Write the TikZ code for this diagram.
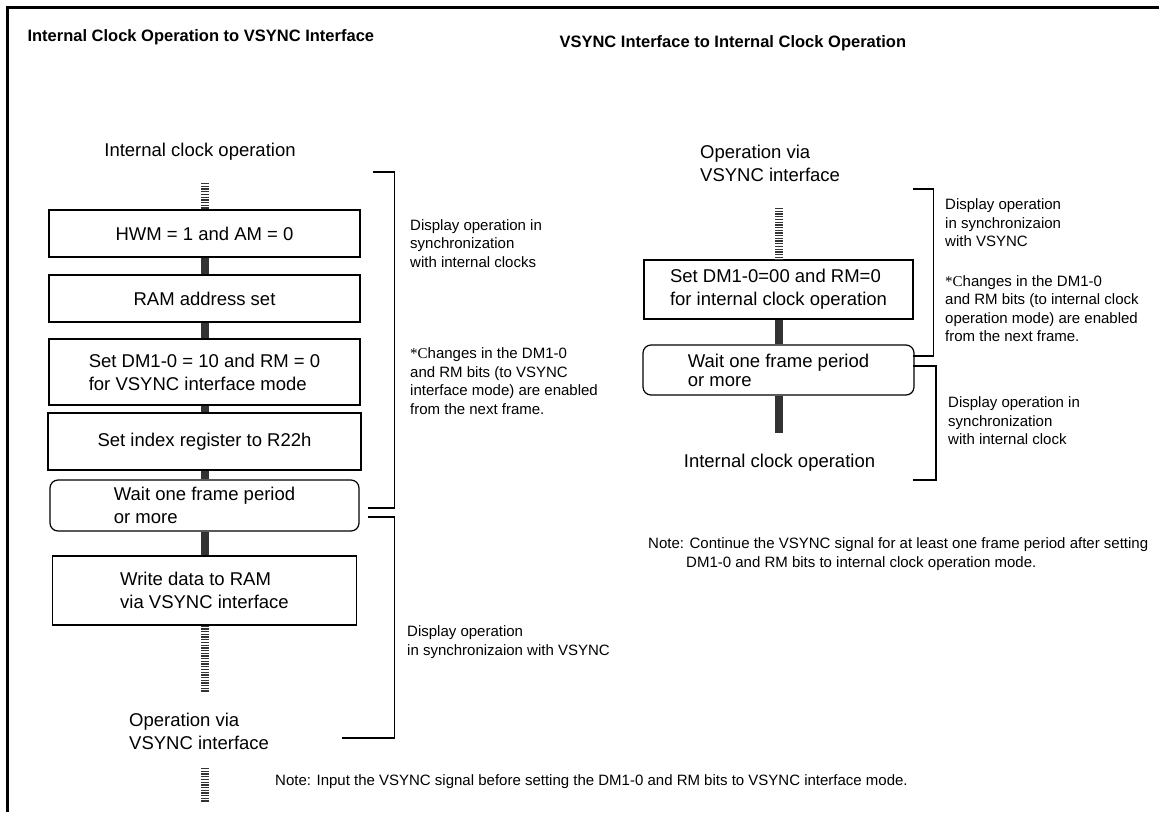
\documentclass[tikz,border=0pt]{standalone}
\usepackage{fontspec}
\setmainfont{Liberation Sans}
\newfontfamily\serifstar{Liberation Serif}
\usepackage{xcolor}
\usepackage{tikz}

\definecolor{barcol}{HTML}{333333}
\newcommand{\flowsize}{\fontsize{18.5}{23}\selectfont}
\newcommand{\notesize}{\fontsize{15}{18.5}\selectfont}
\newcommand{\headsize}{\fontsize{16.5}{20}\selectfont\bfseries}
\newcommand{\starC}{{\serifstar *C}}

\tikzset{
    procbox/.style={draw, line width=1.2pt, align=left, font=\flowsize, inner sep=0pt},
    waitbox/.style={procbox, rounded corners=8pt},
    link/.style={draw=barcol, line width=8pt},
    hatch/.style={draw=barcol, line width=8pt, dash pattern=on 1.3pt off 1.4pt},
    bracket/.style={draw, line width=1.2pt},
    flowtext/.style={align=left, font=\flowsize, inner sep=0pt},
    sidenote/.style={anchor=west, align=left, font=\notesize, inner sep=0pt}
}

\begin{document}
\begin{tikzpicture}[x=1pt,y=-1pt]
        \useasboundingbox (0,0) rectangle (1159,812);
        \draw[line width=2.5pt] (1159,7.5) -- (7.5,7.5) -- (7.5,812);

        % internal clock operation to VSYNC interface
        \node (titleL) [anchor=west, font=\headsize] at (24,37) {Internal Clock Operation to VSYNC Interface};
        \node (startL) [flowtext] at (200,152) {Internal clock operation};
        \node (hwm) [procbox, minimum width=311pt, minimum height=47pt] at (204.5,233.5) {HWM = 1 and AM = 0};
        \node (ramset) [procbox, minimum width=311pt, minimum height=47pt] at (204.5,298.5) {RAM address set};
        \node (dmset) [procbox, minimum width=311pt, minimum height=66pt] at (204.5,372) {Set DM1-0 = 10 and RM = 0\\for VSYNC interface mode};
        \node (idxset) [procbox, minimum width=313pt, minimum height=57pt] at (204.5,441.5) {Set index register to R22h};
        \node (waitL) [waitbox, minimum width=309pt, minimum height=51pt] at (204.5,505.5) {Wait one frame period\\or more};
        \node (wdata) [procbox, minimum width=304pt, minimum height=69pt] at (204.5,590.5) {Write data to RAM\\via VSYNC interface};
        \node (endL) [flowtext, anchor=west] at (129,731) {Operation via\\VSYNC interface};

        \coordinate (hatchA) at (204.5,183);
        \coordinate (hatchB) at (204.5,692);
        \coordinate (hatchC) at (204.5,768);
        \coordinate (hatchD) at (204.5,802);

        \draw[hatch] (hatchA) -- (hwm.north);
        \foreach \i/\j in {hwm/ramset, ramset/dmset, dmset/idxset, idxset/waitL, waitL/wdata} {
            \draw[link] (\i) -- (\j);
        }
        \draw[hatch] (wdata.south) -- (hatchB);
        \draw[hatch] (hatchC) -- (hatchD);

        \draw[bracket] (373,172) -- (394.5,172) -- (394.5,508) -- (368,508);
        \draw[bracket] (368,517) -- (394.5,517) -- (394.5,738) -- (342,738);

        \node (syncL) [sidenote] at (410,243.5) {Display operation in\\synchronization\\with internal clocks};
        \node (chgL) [sidenote] at (410,381) {\starC hanges in the DM1-0\\and RM bits (to VSYNC\\interface mode) are enabled\\from the next frame.};
        \node (vsyncL) [sidenote] at (407,642) {Display operation\\in synchronizaion with VSYNC};
        \node (noteL) [sidenote] at (275,782) {Note: Input the VSYNC signal before setting the DM1-0 and RM bits to VSYNC interface mode.};

        % VSYNC interface to internal clock operation
        \node (titleR) [anchor=west, font=\headsize] at (556,43) {VSYNC Interface to Internal Clock Operation};
        \node (startR) [flowtext, anchor=west] at (700,163.5) {Operation via\\VSYNC interface};
        \node (setint) [procbox, minimum width=269pt, minimum height=59pt] at (778.5,289.5) {Set DM1-0=00 and RM=0\\for internal clock operation};
        \node (waitR) [waitbox, minimum width=271pt, minimum height=50pt, font=\fontsize{18.5}{19}\selectfont] at (778.5,370) {Wait one frame period\\or more};
        \node (endR) [flowtext] at (779.5,463) {Internal clock operation};

        \coordinate (hatchE) at (778.5,208);
        \coordinate (linkEnd) at (778.5,433);

        \draw[hatch] (hatchE) -- (setint.north);
        \draw[link] (setint) -- (waitR);
        \draw[link] (waitR.south) -- (linkEnd);

        \draw[bracket] (913,189) -- (933.5,189) -- (933.5,356) -- (913,356);
        \draw[bracket] (913,366) -- (936,366) -- (936,480) -- (913,480);

        \node (vsyncR) [sidenote] at (945,223) {Display operation\\in synchronizaion\\with VSYNC};
        \node (chgR) [sidenote] at (945,308.5) {\starC hanges in the DM1-0\\and RM bits (to internal clock\\operation mode) are enabled\\from the next frame.};
        \node (syncR) [sidenote] at (948,421) {Display operation in\\synchronization\\with internal clock};
        \node (noteR) [sidenote] at (648,554) {Note: Continue the VSYNC signal for at least one frame period after setting\\\hspace*{38pt}DM1-0 and RM bits to internal clock operation mode.};
    \end{tikzpicture}
\end{document}
